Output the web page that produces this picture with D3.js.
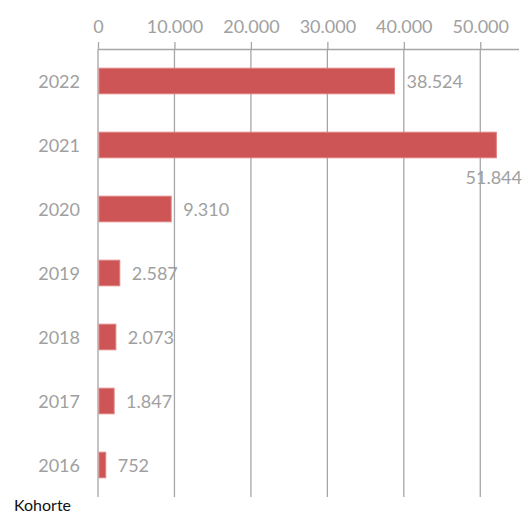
<!DOCTYPE html>
<html>
<head>
<meta charset="utf-8">
<script src="https://cdn.jsdelivr.net/npm/d3@7/dist/d3.min.js"></script>
<style>
  html, body { margin: 0; padding: 0; background: #fff; }
  svg { display: block; }
  text { font-family: Lato, "Open Sans", sans-serif; }
</style>
</head>
<body>
<svg id="chart" width="526" height="513"></svg>
<script>
// Kohorten (top to bottom) and their counts
const cohorts = ["2022", "2021", "2020", "2019", "2018", "2017", "2016"];
const counts = [38524, 51844, 9310, 2587, 2073, 1847, 752];
const tickValues = [0, 10000, 20000, 30000, 40000, 50000];
const tickLabels = ["0", "10.000", "20.000", "30.000", "40.000", "50.000"];
const axisTitle = "Kohorte";

const fmt = v => d3.format(",")(v).replace(/,/g, ".");

const svg = d3.select("#chart");
const plot = { left: 98, right: 518.5, top: 49, bottom: 497 };
const gridColor = "#a6a6a6";
const textColor = "#a0a0a0";
const barColor = "#cd5555";
const fontSize = 18;

const x = d3.scaleLinear().domain([0, 55000]).range([plot.left, plot.right]);
const y = d3.scaleBand().domain(cohorts).range([plot.top, plot.bottom]).paddingInner(0.6).paddingOuter(0.3);

// vertical gridlines
svg.append("g").selectAll("line").data(tickValues).join("line")
  .attr("x1", d => x(d)).attr("x2", d => x(d))
  .attr("y1", plot.top).attr("y2", plot.bottom)
  .attr("stroke", gridColor).attr("stroke-width", 1.3);

// top axis with ticks pointing upward
const axis = d3.axisTop(x).tickValues(tickValues)
  .tickFormat((d, i) => tickLabels[i]).tickSizeInner(7).tickSizeOuter(0).tickPadding(9);
const gAxis = svg.append("g").attr("transform", `translate(0,${plot.top})`).call(axis);
gAxis.select(".domain").attr("stroke", gridColor).attr("stroke-width", 1.3);
gAxis.selectAll(".tick line").attr("stroke", gridColor).attr("stroke-width", 1.3);
gAxis.selectAll(".tick text").attr("fill", textColor).attr("font-size", fontSize)
  .attr("font-family", "Lato, sans-serif");

// bars
svg.append("g").selectAll("rect").data(cohorts).join("rect")
  .attr("x", x(0) + 1)
  .attr("y", d => y(d))
  .attr("width", (d, i) => x(counts[i]) - x(0) + 1)
  .attr("height", y.bandwidth())
  .attr("fill", barColor)
  .attr("stroke", "#e08080").attr("stroke-width", 1);

// category labels
svg.append("g").selectAll("text").data(cohorts).join("text")
  .attr("x", 80).attr("y", d => y(d) + y.bandwidth() / 2)
  .attr("text-anchor", "end").attr("dominant-baseline", "central")
  .attr("fill", textColor).attr("font-size", fontSize)
  .text(d => d);

// value labels
svg.append("g").selectAll("text").data(cohorts).join("text")
  .each(function (d, i) {
    const v = counts[i];
    const t = d3.select(this);
    const cy = y(d) + y.bandwidth() / 2;
    if (x(v) + 80 > 526) {
      t.attr("x", 522).attr("y", cy + 32).attr("text-anchor", "end");
    } else {
      t.attr("x", x(v) + 14).attr("y", cy).attr("text-anchor", "start");
    }
  })
  .attr("dominant-baseline", "central")
  .attr("fill", textColor).attr("font-size", fontSize)
  .text((d, i) => fmt(counts[i]));

// axis title
svg.append("text").attr("x", 14).attr("y", 511)
  .attr("fill", "#111").attr("font-size", 16)
  .text(axisTitle);
</script>
</body>
</html>
